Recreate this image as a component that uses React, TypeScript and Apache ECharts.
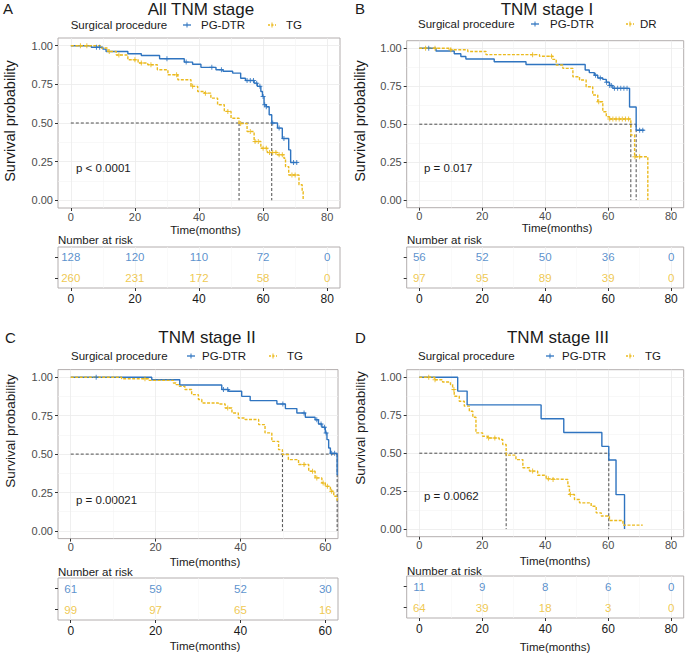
import React, { useEffect, useRef } from "react";
import * as echarts from "echarts";

const BLUE = "#2F74C0";
const YELLOW = "#EBBA1E";
const FONT = "'Liberation Sans', Arial, Helvetica, sans-serif";

// ---------- Panel A: All TNM stage ----------
const aBlueTime = [0, 6.4, 10, 11, 17.8, 22, 27.7, 35.4, 38, 40.6, 45.3, 47.5, 50.5, 53, 54.5, 57.2, 58.2, 59.3, 59.8, 60.3, 61, 61.9, 62.7, 64.5, 66, 68, 68.6, 70.7];
const aBlueSurv = [1, 0.99, 0.978, 0.963, 0.948, 0.937, 0.916, 0.894, 0.88, 0.86, 0.845, 0.835, 0.823, 0.79, 0.775, 0.758, 0.737, 0.704, 0.672, 0.618, 0.605, 0.553, 0.5, 0.467, 0.4, 0.326, 0.244, 0.244];
const aBlueCensor = [8, 9, 30, 36, 44, 47, 55, 56, 57, 58, 59, 60, 60.5, 61, 63, 65, 66.5, 69.5, 70.5];
const aYellowTime = [0, 9.5, 11.6, 14.2, 17.8, 21, 24, 27, 30.3, 33.4, 37.5, 39.6, 41.7, 43.7, 45.8, 47.9, 50, 52.5, 55, 57.2, 59.3, 61.3, 64.5, 66.5, 67, 68, 70.7, 71.2, 72.2, 72.5];
const aYellowSurv = [1, 0.985, 0.963, 0.94, 0.909, 0.888, 0.877, 0.845, 0.812, 0.78, 0.737, 0.704, 0.693, 0.661, 0.618, 0.575, 0.531, 0.497, 0.445, 0.38, 0.337, 0.309, 0.294, 0.272, 0.218, 0.164, 0.164, 0.1, 0.056, 0];
const aYellowCensor = [3, 5, 12, 15, 20, 22, 25, 33, 38, 42, 49, 53, 56, 57.5, 58.5, 60, 61, 62, 63, 64, 65, 66, 69, 70];
const aMedians = [62.7, 52.5];
const aRiskTimes = [0, 20, 40, 60, 80];
const aRiskBlue = [128, 120, 110, 72, 0];
const aRiskYellow = [260, 231, 172, 58, 0];

// ---------- Panel B: TNM stage I ----------
const bBlueTime = [0, 5.3, 11.1, 13.2, 14.8, 23.8, 33.9, 52.7, 54, 55.6, 56.7, 58.3, 59.4, 60.4, 61.5, 66.8, 68.9, 71.5];
const bBlueSurv = [1, 0.982, 0.964, 0.946, 0.929, 0.911, 0.893, 0.857, 0.84, 0.822, 0.804, 0.795, 0.777, 0.755, 0.736, 0.613, 0.46, 0.46];
const bBlueCensor = [3, 56, 57.5, 59.5, 60.5, 61, 62, 63, 64, 65, 66, 70, 71];
const bYellowTime = [0, 10, 15.4, 21.2, 38.2, 42.4, 43.5, 45.6, 48.8, 50.9, 53, 55.1, 56.7, 58.3, 59.4, 60.4, 67.2, 68.4, 72.6];
const bYellowSurv = [1, 0.99, 0.979, 0.958, 0.948, 0.927, 0.89, 0.868, 0.813, 0.791, 0.747, 0.692, 0.648, 0.582, 0.549, 0.534, 0.429, 0.286, 0];
const bYellowCensor = [2, 5, 10, 36, 42, 57, 60.5, 61.5, 62.5, 63.5, 64.5, 65.5, 66.5, 68.5, 70];
const bMedians = [68.9, 67.2];
const bRiskTimes = [0, 20, 40, 60, 80];
const bRiskBlue = [56, 52, 50, 36, 0];
const bRiskYellow = [97, 95, 89, 39, 0];

// ---------- Panel C: TNM stage II ----------
const cBlueTime = [0, 19.1, 25.7, 35.6, 37.2, 40.3, 42.3, 48.6, 50.6, 53.3, 55.3, 57.6, 58.4, 59.2, 60, 60.4, 60.8, 61.2, 62.8, 63];
const cBlueSurv = [1, 0.984, 0.95, 0.92, 0.909, 0.876, 0.848, 0.826, 0.796, 0.768, 0.74, 0.724, 0.696, 0.675, 0.638, 0.594, 0.54, 0.505, 0.367, 0.367];
const cBlueCensor = [6, 36, 37, 50, 55, 58, 59, 59.8, 60.2, 61.5, 62.2];
const cYellowTime = [0, 12, 18.3, 24.2, 24.8, 25.6, 26.9, 28.5, 30.1, 30.9, 34.8, 36.4, 38, 39.5, 41.1, 44.3, 45.8, 47.4, 49, 49.9, 51.3, 53.7, 56.1, 57.6, 59.2, 60, 61.2, 62, 62.8, 63];
const cYellowSurv = [1, 0.99, 0.98, 0.963, 0.952, 0.941, 0.92, 0.887, 0.855, 0.833, 0.826, 0.8, 0.768, 0.735, 0.725, 0.692, 0.638, 0.583, 0.529, 0.497, 0.464, 0.432, 0.388, 0.345, 0.312, 0.29, 0.258, 0.226, 0.193, 0.193];
const cYellowCensor = [17.5, 37, 55, 57, 58, 59.5, 60.5, 61.5];
const cMedians = [62.8, 49.9];
const cRiskTimes = [0, 20, 40, 60];
const cRiskBlue = [61, 59, 52, 30];
const cRiskYellow = [99, 97, 65, 16];

// ---------- Panel D: TNM stage III ----------
const dBlueTime = [0, 12.2, 15.2, 38.7, 45.9, 58, 60.2, 62.5, 65.2];
const dBlueSurv = [1, 0.909, 0.818, 0.727, 0.636, 0.545, 0.455, 0.227, 0];
const dBlueCensor: number[] = [];
const dYellowTime = [0, 4.8, 7.4, 9.9, 10.6, 11.1, 12.7, 14.3, 15.9, 17, 18, 20.1, 21.7, 25.4, 26.5, 27.6, 30.7, 32.9, 35, 37.6, 40.3, 42.4, 47.2, 47.7, 49.3, 50.9, 54.6, 56.2, 57.8, 60.4, 64.7, 71];
const dYellowSurv = [1, 0.984, 0.969, 0.953, 0.919, 0.875, 0.842, 0.81, 0.776, 0.737, 0.634, 0.612, 0.6, 0.59, 0.557, 0.487, 0.458, 0.404, 0.382, 0.355, 0.331, 0.327, 0.283, 0.228, 0.195, 0.173, 0.151, 0.107, 0.086, 0.057, 0.026, 0.026];
const dYellowCensor = [3, 5, 11, 22, 24, 36, 41, 42.5, 48];
const dMedians = [60.2, 27.6];
const dRiskTimes = [0, 20, 40, 60, 80];
const dRiskBlue = [11, 9, 8, 6, 0];
const dRiskYellow = [64, 39, 18, 3, 0];

// axis ticks
const xTicks80 = [0, 20, 40, 60, 80];
const xMinor80 = [10, 30, 50, 70];
const xTicks60 = [0, 20, 40, 60];
const xMinor60 = [10, 30, 50];
const yTicks = [0, 0.25, 0.5, 0.75, 1];
const yMinor = [0.125, 0.375, 0.625, 0.875];

type Panel = {
  letter: string; title: string; names: [string, string]; pText: string;
  blueT: number[]; blueS: number[]; blueC: number[];
  yelT: number[]; yelS: number[]; yelC: number[];
  medians: number[]; riskT: number[]; riskB: number[]; riskY: number[];
  xMin: number; xMax: number; xTicks: number[]; xMinor: number[];
  layout: any;
};

const panels: Panel[] = [
  {
    letter: "A", title: "All TNM stage", names: ["PG-DTR", "TG"], pText: "p < 0.0001",
    blueT: aBlueTime, blueS: aBlueSurv, blueC: aBlueCensor, yelT: aYellowTime, yelS: aYellowSurv, yelC: aYellowCensor,
    medians: aMedians, riskT: aRiskTimes, riskB: aRiskBlue, riskY: aRiskYellow,
    xMin: -4, xMax: 84, xTicks: xTicks80, xMinor: xMinor80,
    layout: {
      plot: { left: 58, top: 38, width: 282, height: 170 }, table: { left: 58, top: 247, width: 282, height: 41 },
      letter: [3, 8], title: [201, 9], legY: 25, sp: 70.7, k1: 183, t1: 201, k2: 268, t2: 286,
      ylab: [10, 121, 14.5], xlab: [205.5, 230], risk: [58, 240], p: [76, 168], tlab: null,
    },
  },
  {
    letter: "B", title: "TNM stage I", names: ["PG-DTR", "DR"], pText: "p = 0.017",
    blueT: bBlueTime, blueS: bBlueSurv, blueC: bBlueCensor, yelT: bYellowTime, yelS: bYellowSurv, yelC: bYellowCensor,
    medians: bMedians, riskT: bRiskTimes, riskB: bRiskBlue, riskY: bRiskYellow,
    xMin: -4, xMax: 84, xTicks: xTicks80, xMinor: xMinor80,
    layout: {
      plot: { left: 406.7, top: 40.7, width: 277, height: 167 }, table: { left: 406.7, top: 247, width: 277, height: 41 },
      letter: [355, 8], title: [547, 9], legY: 24, sp: 418, k1: 531, t1: 550, k2: 626, t2: 640,
      ylab: [360, 121, 14.5], xlab: [557, 228], risk: [407, 240], p: [424, 168], tlab: null,
    },
  },
  {
    letter: "C", title: "TNM stage II", names: ["PG-DTR", "TG"], pText: "p = 0.00021",
    blueT: cBlueTime, blueS: cBlueSurv, blueC: cBlueCensor, yelT: cYellowTime, yelS: cYellowSurv, yelC: cYellowCensor,
    medians: cMedians, riskT: cRiskTimes, riskB: cRiskBlue, riskY: cRiskYellow,
    xMin: -3, xMax: 63, xTicks: xTicks60, xMinor: xMinor60,
    layout: {
      plot: { left: 58, top: 369.6, width: 280, height: 169 }, table: { left: 58, top: 578, width: 280, height: 42 },
      letter: [5, 337], title: [207, 337], legY: 356, sp: 71, k1: 187, t1: 202, k2: 269, t2: 287,
      ylab: [10, 431, 13.5], xlab: [205, 562], risk: [58, 572], p: [76, 500], tlab: [205, 646],
    },
  },
  {
    letter: "D", title: "TNM stage III", names: ["PG-DTR", "TG"], pText: "p = 0.0062",
    blueT: dBlueTime, blueS: dBlueSurv, blueC: dBlueCensor, yelT: dYellowTime, yelS: dYellowSurv, yelC: dYellowCensor,
    medians: dMedians, riskT: dRiskTimes, riskB: dRiskBlue, riskY: dRiskYellow,
    xMin: -4, xMax: 84, xTicks: xTicks80, xMinor: xMinor80,
    layout: {
      plot: { left: 406.7, top: 369.7, width: 277, height: 167 }, table: { left: 406.7, top: 576, width: 277, height: 42 },
      letter: [355, 337], title: [558, 337], legY: 356, sp: 418, k1: 546, t1: 562, k2: 626, t2: 645,
      ylab: [360, 428, 13.5], xlab: [555, 561], risk: [407, 571], p: [424, 496], tlab: [555, 647],
    },
  },
];

const PLUS = "path://M4,0H6V4H10V6H6V10H4V6H0V4H4Z";

function survAt(ts: number[], ss: number[], t: number) {
  let v = ss[0];
  for (let i = 0; i < ts.length; i++) if (ts[i] <= t) v = ss[i];
  return v;
}

function txt(x: number, y: number, text: string, size: number, opts: any = {}) {
  return {
    type: "text", x, y, rotation: opts.rotation || 0, silent: true,
    style: {
      text, fill: opts.fill || "#1a1a1a", fontSize: size, fontFamily: FONT,
      align: opts.align || "left", verticalAlign: opts.va || "middle",
    },
  };
}

function legendKey(x: number, y: number, color: string, dashed: boolean) {
  return [
    { type: "line", silent: true, shape: { x1: x, y1: y, x2: x + 8, y2: y }, style: { stroke: color, lineWidth: 1.3, lineDash: dashed ? [2, 1.5] : null } },
    { type: "line", silent: true, shape: { x1: x + 4, y1: y - 2.5, x2: x + 4, y2: y + 2.5 }, style: { stroke: color, lineWidth: 1 } },
  ];
}

function buildOption() {
  const grid: any[] = [];
  const xAxis: any[] = [];
  const yAxis: any[] = [];
  const series: any[] = [];
  const graphic: any[] = [];
  const noLine = { show: false, onZero: false };

  panels.forEach((p) => {
    const L = p.layout;
    const gPlot = grid.length;
    grid.push({ ...L.plot, show: true, borderColor: "#B3AEAE", borderWidth: 1 });
    const gTab = grid.length;
    grid.push({ ...L.table, show: true, borderColor: "#B3AEAE", borderWidth: 1 });

    const xPlotMajor = xAxis.length;
    xAxis.push({
      type: "value", gridIndex: gPlot, min: p.xMin, max: p.xMax, position: "bottom",
      axisLine: noLine,
      axisTick: { show: true, length: 3, customValues: p.xTicks, lineStyle: { color: "#333", width: 1 } },
      axisLabel: { show: true, customValues: p.xTicks, color: "#4d4d4d", fontSize: 11, fontFamily: FONT, margin: 3 },
      splitLine: { show: true, lineStyle: { color: "#EBEBEB", width: 0.8 } },
    });
    xAxis.push({
      type: "value", gridIndex: gPlot, min: p.xMin, max: p.xMax, position: "top",
      axisLine: noLine, axisTick: { show: false, customValues: p.xMinor },
      axisLabel: { show: false, customValues: p.xMinor },
      splitLine: { show: true, lineStyle: { color: "#F4F4F4", width: 0.6 } },
    });
    const xTab = xAxis.length;
    xAxis.push({
      type: "value", gridIndex: gTab, min: p.xMin, max: p.xMax, position: "bottom",
      axisLine: noLine,
      axisTick: { show: true, length: 3, customValues: p.xTicks, lineStyle: { color: "#333", width: 1 } },
      axisLabel: { show: true, customValues: p.xTicks, color: "#1a1a1a", fontSize: 12, fontFamily: FONT, margin: 5 },
      splitLine: { show: true, lineStyle: { color: "#F0F0F0", width: 0.8 } },
    });
    xAxis.push({
      type: "value", gridIndex: gTab, min: p.xMin, max: p.xMax, position: "top",
      axisLine: noLine, axisTick: { show: false, customValues: p.xMinor },
      axisLabel: { show: false, customValues: p.xMinor },
      splitLine: { show: true, lineStyle: { color: "#F6F6F6", width: 0.6 } },
    });

    const yPlot = yAxis.length;
    yAxis.push({
      type: "value", gridIndex: gPlot, min: -0.05, max: 1.05, position: "left",
      axisLine: noLine,
      axisTick: { show: true, length: 3, customValues: yTicks, lineStyle: { color: "#333", width: 1 } },
      axisLabel: { show: true, customValues: yTicks, color: "#4d4d4d", fontSize: 11, fontFamily: FONT, margin: 5, formatter: (v: number) => v.toFixed(2) },
      splitLine: { show: true, lineStyle: { color: "#EBEBEB", width: 0.8 } },
    });
    yAxis.push({
      type: "value", gridIndex: gPlot, min: -0.05, max: 1.05, position: "right",
      axisLine: noLine, axisTick: { show: false, customValues: yMinor },
      axisLabel: { show: false, customValues: yMinor },
      splitLine: { show: true, lineStyle: { color: "#F4F4F4", width: 0.6 } },
    });
    const yTab = yAxis.length;
    yAxis.push({
      type: "category", gridIndex: gTab, data: [p.names[1], p.names[0]], position: "left",
      axisLine: noLine,
      axisTick: { show: true, length: 3, alignWithLabel: true, lineStyle: { color: "#333", width: 1 } },
      axisLabel: { show: false }, splitLine: { show: false },
    });

    const curves = [
      { name: p.names[0], t: p.blueT, s: p.blueS, c: p.blueC, color: BLUE, dashed: false },
      { name: p.names[1], t: p.yelT, s: p.yelS, c: p.yelC, color: YELLOW, dashed: true },
    ];

    // median lines
    const mMax = Math.max(...p.medians);
    const medStyle = { color: "#3a3a3a", width: 0.9, type: [3, 2] };
    series.push({
      type: "line", xAxisIndex: xPlotMajor, yAxisIndex: yPlot, symbol: "none", silent: true,
      data: [[0, 0.5], [mMax, 0.5]], lineStyle: medStyle, z: 1,
    });
    p.medians.forEach((m) => {
      series.push({
        type: "line", xAxisIndex: xPlotMajor, yAxisIndex: yPlot, symbol: "none", silent: true,
        data: [[m, 0.5], [m, 0]], lineStyle: medStyle, z: 1,
      });
    });

    curves.forEach((cv) => {
      series.push({
        name: cv.name, type: "line", step: "end", xAxisIndex: xPlotMajor, yAxisIndex: yPlot,
        symbol: "none", silent: true, z: 3,
        data: cv.t.map((t, i) => [t, cv.s[i]]),
        lineStyle: { color: cv.color, width: 1.4, type: cv.dashed ? [3, 1.5] : "solid" },
      });
      series.push({
        type: "scatter", xAxisIndex: xPlotMajor, yAxisIndex: yPlot, silent: true, z: 4,
        symbol: PLUS, symbolSize: 5,
        itemStyle: { color: cv.color, opacity: 0.85 },
        data: cv.c.map((t) => [t, survAt(cv.t, cv.s, t)]),
      });
    });

    // risk table
    [
      { name: p.names[0], vals: p.riskB, color: BLUE },
      { name: p.names[1], vals: p.riskY, color: YELLOW },
    ].forEach((row) => {
      series.push({
        type: "scatter", xAxisIndex: xTab, yAxisIndex: yTab, silent: true,
        symbolSize: 1, itemStyle: { color: "rgba(0,0,0,0)" }, z: 5,
        data: p.riskT.map((t, i) => [t, row.name, row.vals[i]]),
        label: {
          show: true, position: "inside", color: row.color, fontSize: 11.5, fontFamily: FONT,
          formatter: (q: any) => String(q.value[2]),
        },
      });
    });

    // texts
    graphic.push(txt(L.letter[0], L.letter[1], p.letter, 15));
    graphic.push(txt(L.title[0], L.title[1], p.title, 17, { align: "center" }));
    graphic.push(txt(L.sp, L.legY, "Surgical procedure", 11.5));
    graphic.push(...legendKey(L.k1, L.legY, BLUE, false));
    graphic.push(txt(L.t1, L.legY, p.names[0], 11.5));
    graphic.push(...legendKey(L.k2, L.legY, YELLOW, true));
    graphic.push(txt(L.t2, L.legY, p.names[1], 11.5));
    graphic.push(txt(L.ylab[0], L.ylab[1], "Survival probability", L.ylab[2], { align: "center", rotation: Math.PI / 2 }));
    graphic.push(txt(L.xlab[0], L.xlab[1], "Time(months)", 11.5, { align: "center" }));
    graphic.push(txt(L.risk[0], L.risk[1], "Number at risk", 11.5));
    graphic.push(txt(L.p[0], L.p[1], p.pText, 11.5));
    if (L.tlab) graphic.push(txt(L.tlab[0], L.tlab[1], "Time(months)", 11.5, { align: "center" }));
  });

  return {
    animation: false,
    backgroundColor: "#ffffff",
    textStyle: { fontFamily: FONT },
    grid, xAxis, yAxis, series, graphic,
  };
}

export default function App() {
  const ref = useRef<HTMLDivElement>(null);
  useEffect(() => {
    if (!ref.current) return;
    const chart = echarts.init(ref.current, undefined, { renderer: "svg" });
    chart.setOption(buildOption() as any);
    return () => chart.dispose();
  }, []);
  return (
    <div
      ref={ref}
      style={{ position: "absolute", left: 0, top: 0, width: 685, height: 653, background: "#fff" }}
    />
  );
}
